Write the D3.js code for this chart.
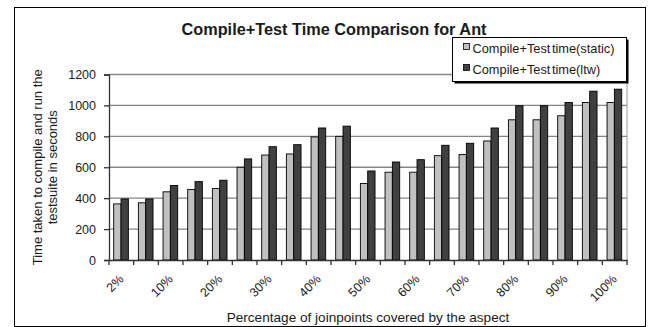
<!DOCTYPE html>
<html>
<head>
<meta charset="utf-8">
<script src="https://cdn.jsdelivr.net/npm/d3@7"></script>
<style>
  body { margin: 0; background: #fff; }
  text { font-family: "Liberation Sans", Arial, sans-serif; fill: #1a1a1a; }
</style>
</head>
<body>
<div id="chart"></div>
<script>
// data
var categories = ["2%", "5%", "10%", "15%", "20%", "25%", "30%", "35%", "40%", "45%", "50%",
                  "55%", "60%", "65%", "70%", "75%", "80%", "85%", "90%", "95%", "100%"];
var staticTime = [363, 370, 441, 456, 462, 600, 679, 686, 796, 800, 495,
                  568, 568, 675, 682, 770, 907, 907, 933, 1019, 1019];
var ltwTime = [395, 395, 482, 507, 516, 654, 733, 746, 854, 866, 576,
               634, 649, 742, 755, 854, 998, 998, 1019, 1092, 1105];
var seriesNames = ["Compile+Test time(static)", "Compile+Test time(ltw)"];
var yTicks = [0, 200, 400, 600, 800, 1000, 1200];

var width = 656, height = 327;
var plotLeft = 109, plotRight = 627, plotTop = 74.5, plotBottom = 260;

var svg = d3.select("#chart").append("svg")
    .attr("width", width)
    .attr("height", height);

// outer frame
svg.append("rect")
    .attr("x", 14.5).attr("y", 7.5)
    .attr("width", 631).attr("height", 319)
    .attr("fill", "#fff")
    .attr("stroke", "#000");

var xScale = d3.scaleBand().domain(categories).range([plotLeft, plotRight]).paddingInner(0).paddingOuter(0);
var yScale = d3.scaleLinear().domain([0, 1200]).range([plotBottom, plotTop]);

// gridlines
svg.append("g")
    .selectAll("line")
    .data(yTicks.slice(1))
    .enter().append("line")
    .attr("x1", plotLeft).attr("x2", plotRight)
    .attr("y1", function(d) { return yScale(d); })
    .attr("y2", function(d) { return yScale(d); })
    .attr("stroke", "#858585")
    .attr("stroke-width", 1.3);

svg.append("line")
    .attr("x1", plotRight).attr("x2", plotRight)
    .attr("y1", plotTop).attr("y2", plotBottom)
    .attr("stroke", "#9a9a9a");

// bars
var barW = xScale.bandwidth() * 0.297;
var offset = (xScale.bandwidth() - 2 * barW) / 2 - 0.3;

var groups = svg.append("g")
    .selectAll("g")
    .data(categories)
    .enter().append("g")
    .attr("transform", function(d) { return "translate(" + (xScale(d) + offset) + ",0)"; });

groups.append("rect")
    .attr("x", 0)
    .attr("y", function(d, i) { return yScale(staticTime[i]); })
    .attr("width", barW)
    .attr("height", function(d, i) { return plotBottom - yScale(staticTime[i]); })
    .attr("fill", "#c0c0c0")
    .attr("stroke", "#000")
    .attr("stroke-width", 0.9);

groups.append("rect")
    .attr("x", barW)
    .attr("y", function(d, i) { return yScale(ltwTime[i]); })
    .attr("width", barW)
    .attr("height", function(d, i) { return plotBottom - yScale(ltwTime[i]); })
    .attr("fill", "#404040")
    .attr("stroke", "#000")
    .attr("stroke-width", 0.9);

// y axis
var yAxis = d3.axisLeft(yScale).tickValues(yTicks).tickFormat(d3.format("d")).tickSize(5).tickPadding(8);
var gy = svg.append("g")
    .attr("transform", "translate(" + plotLeft + ",0)")
    .call(yAxis);
gy.select(".domain").attr("stroke", "#333").attr("stroke-width", 1.3);
gy.selectAll(".tick line").attr("stroke", "#333").attr("stroke-width", 1.3);
gy.selectAll("text")
    .style("font-size", "12.5px")
    .attr("fill", "#1a1a1a");

// x axis
var xAxis = d3.axisBottom(xScale).tickSize(0).tickFormat(function(d, i) { return i % 2 === 0 ? d : ""; });
var gx = svg.append("g")
    .attr("transform", "translate(0," + plotBottom + ")")
    .call(xAxis);
gx.select(".domain").attr("stroke", "#333").attr("stroke-width", 1.3);
gx.selectAll("text")
    .style("font-size", "12.5px")
    .style("text-anchor", "end")
    .attr("fill", "#1a1a1a")
    .attr("y", 0)
    .attr("dy", 0)
    .attr("transform", "translate(3,20) rotate(-45)");

// tick marks at category boundaries
svg.append("g")
    .selectAll("line")
    .data(categories.concat(["end"]))
    .enter().append("line")
    .attr("x1", function(d, i) { return plotLeft + i * xScale.step(); })
    .attr("x2", function(d, i) { return plotLeft + i * xScale.step(); })
    .attr("y1", plotBottom).attr("y2", plotBottom + 5)
    .attr("stroke", "#333")
    .attr("stroke-width", 1.3);

// titles
svg.append("text")
    .attr("x", 334).attr("y", 35)
    .attr("text-anchor", "middle")
    .style("font-size", "16.3px")
    .style("font-weight", "bold")
    .text("Compile+Test Time Comparison for Ant");

svg.append("text")
    .attr("x", 368).attr("y", 322)
    .attr("text-anchor", "middle")
    .style("font-size", "13.6px")
    .text("Percentage of joinpoints covered by the aspect");

var yTitle = svg.append("text")
    .attr("transform", "translate(42," + ((plotTop + plotBottom) / 2) + ") rotate(-90)")
    .attr("text-anchor", "middle")
    .style("font-size", "13px");
yTitle.append("tspan").attr("x", 0).attr("dy", 0).text("Time taken to compile and run the");
yTitle.append("tspan").attr("x", 0).attr("dy", 15).text("testsuite in seconds");

// legend
var legend = svg.append("g").attr("transform", "translate(452.5,37.5)");
legend.append("rect")
    .attr("x", 2).attr("y", 2)
    .attr("width", 174).attr("height", 44)
    .attr("fill", "#000");
legend.append("rect")
    .attr("width", 174).attr("height", 44)
    .attr("fill", "#fff")
    .attr("stroke", "#000");

var legendColors = ["#c0c0c0", "#404040"];
var items = legend.selectAll(".item")
    .data(seriesNames)
    .enter().append("g")
    .attr("class", "item")
    .attr("transform", function(d, i) { return "translate(11," + (6 + i * 21) + ")"; });
items.append("rect")
    .attr("width", 6).attr("height", 6)
    .attr("y", 0)
    .attr("fill", function(d, i) { return legendColors[i]; })
    .attr("stroke", "#000")
    .attr("stroke-width", 0.8);
items.append("text")
    .attr("x", 9).attr("y", 9.5)
    .style("font-size", "12.8px")
    .style("word-spacing", "-2px")
    .text(function(d) { return d; });
</script>
</body>
</html>
